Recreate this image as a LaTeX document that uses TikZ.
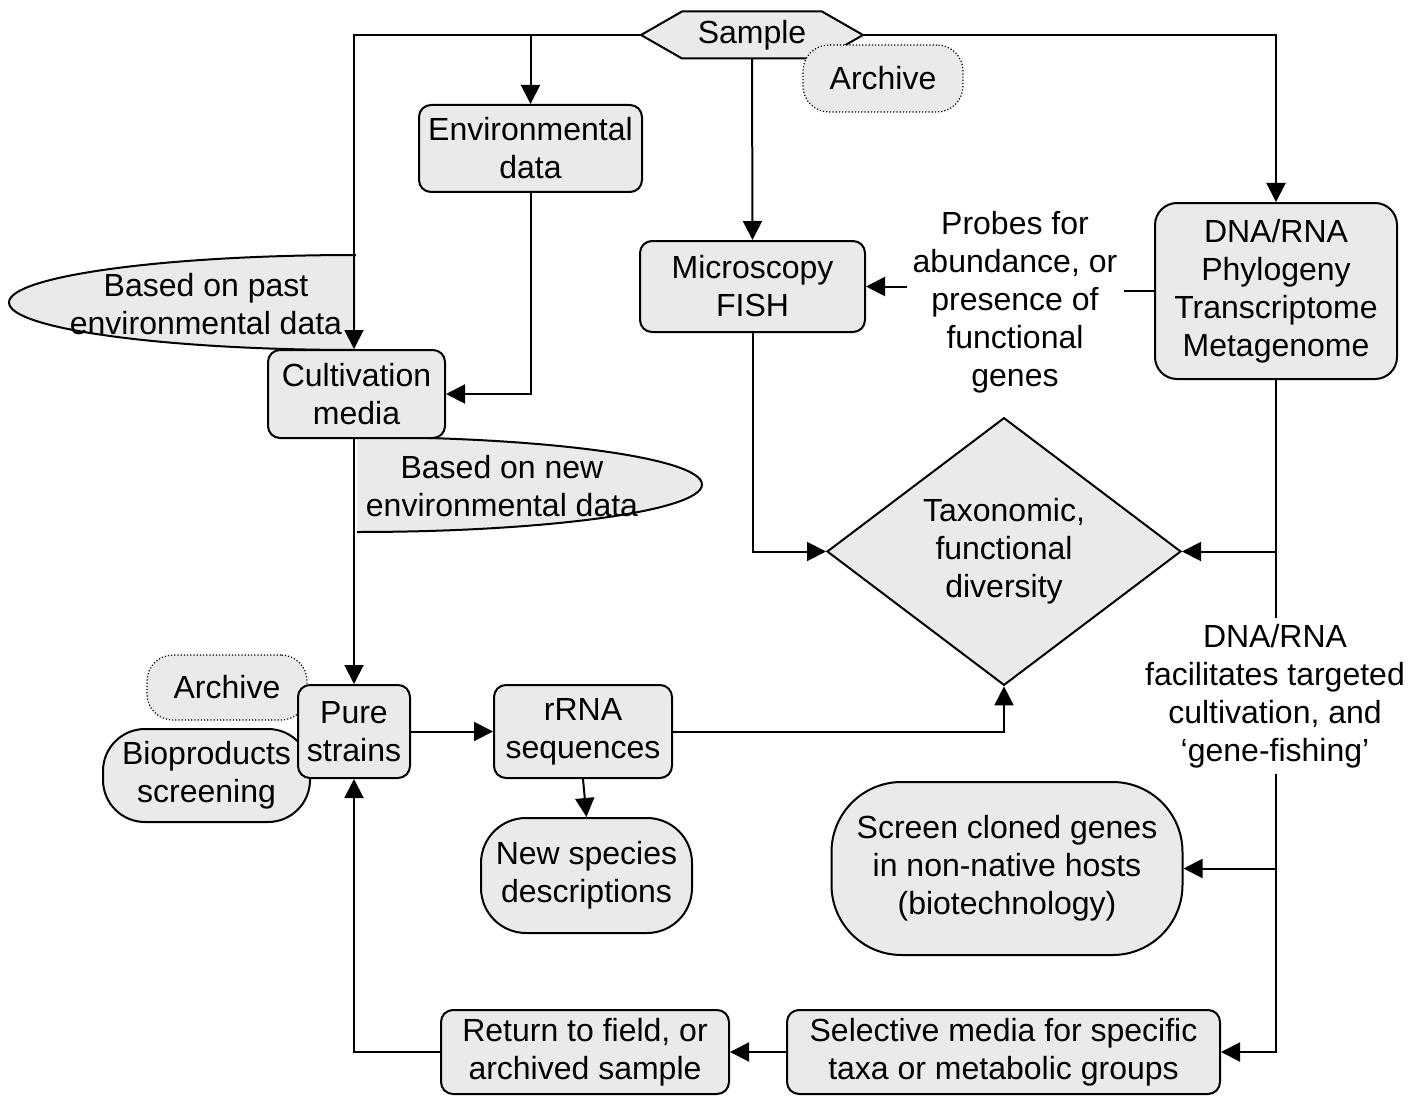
\documentclass[tikz,border=0pt]{standalone}
\usepackage{fontspec}
\setmainfont{Liberation Sans}
\usetikzlibrary{arrows.meta,shapes.geometric}
\definecolor{boxgray}{RGB}{234,234,234}

\begin{document}
\begin{tikzpicture}[x=1pt,y=-1pt,
  font=\fontsize{32}{38}\selectfont,
  box/.style={draw, line width=2pt, fill=boxgray, rounded corners=12pt, align=center, inner sep=0pt},
  archbox/.style={box, line width=1.2pt, dotted, rounded corners=26pt, minimum width=160pt},
  note/.style={align=center, inner sep=6pt, fill=white},
  line/.style={line width=2pt},
  arr/.style={line width=2pt, -{Triangle[length=19pt,width=19pt]}}]
  \useasboundingbox (0,0) rectangle (1425,1097);

  % half ellipses on the left branch
  \begin{scope}
    \clip (0,240) rectangle (356,365);
    \draw[line, fill=boxgray] (356,302.5) ellipse [x radius=347, y radius=47.5];
  \end{scope}
  \begin{scope}
    \clip (357,425) rectangle (720,545);
    \draw[line, fill=boxgray] (357,484.5) ellipse [x radius=345, y radius=47.5];
  \end{scope}
  \node[align=center, inner sep=0pt] (pastdata) at (206,304) {Based on past\\environmental data};
  \node[align=center, inner sep=0pt] (newdata) at (502,486) {Based on new\\environmental data};

  % sample hexagon
  \draw[line, fill=boxgray] (641,35) -- (682,11.5) -- (822,11.5) -- (863,35) -- (822,58.5) -- (682,58.5) -- cycle;
  \node[minimum width=222pt, minimum height=47pt, inner sep=0pt] (sample) at (752,35) {Sample};

  \node[archbox, minimum height=67pt] (archtop) at (883,78.5) {Archive};
  \node[box, minimum width=223pt, minimum height=87pt] (envdata) at (530.5,148.5) {Environmental\\data};
  \node[box, minimum width=225pt, minimum height=91pt] (micro) at (752.5,286.5) {Microscopy\\FISH};
  \node[box, rounded corners=22pt, minimum width=242pt, minimum height=176pt] (dna) at (1276,291) {DNA/RNA\\Phylogeny\\Transcriptome\\Metagenome};
  \node[box, minimum width=177pt, minimum height=88pt] (cult) at (356.5,394) {Cultivation\\media};
  \node[box, diamond, rounded corners=0pt, minimum width=354pt, minimum height=233pt] (taxo) at (1004,551.5) {Taxonomic,\\functional\\diversity};

  \node[archbox, minimum height=65pt] (archlow) at (227,687.5) {Archive};
  \node[box, rounded corners=42pt, minimum width=207pt, minimum height=93pt] (bio) at (206.5,775.5) {Bioproducts\\screening};
  \node[box, minimum width=112pt, minimum height=93pt] (pure) at (354,731.5) {Pure\\strains};
  \node[box, minimum width=178pt, minimum height=93pt] (rrna) at (583,731.5) {rRNA\\sequences};
  \node[box, rounded corners=45pt, minimum width=211pt, minimum height=115pt] (newsp) at (586.5,875.5) {New species\\descriptions};
  \node[box, rounded corners=70pt, minimum width=351pt, minimum height=173pt] (screen) at (1007,868.5) {Screen cloned genes\\in non-native hosts\\(biotechnology)};
  \node[box, minimum width=433pt, minimum height=84pt] (selective) at (1003.5,1052) {Selective media for specific\\taxa or metabolic groups};
  \node[box, minimum width=288pt, minimum height=84pt] (return) at (585,1052) {Return to field, or\\archived sample};

  \node[note] (probes) at (1015,302) {Probes for\\abundance, or\\presence of\\functional\\genes};
  \node[note] (dnanote) at (1275,696) {DNA/RNA\\facilitates targeted\\cultivation, and\\‘gene-fishing’};

  % connectors
  \draw[arr] (sample.west) -| (pure.north |- pastdata.north) -- (cult.north -| pure.north);
  \draw[arr] (envdata.north |- sample.west) -- (envdata.north);
  \draw[arr] (sample.south) -- (micro.north);
  \draw[arr] (sample.east) -| (dna.north);
  \draw[line] (dna.west) -- (probes.east |- dna.west);
  \draw[arr] (probes.west |- micro.east) -- (micro.east);
  \draw[arr] (envdata.south) |- (cult.east);
  \draw[arr] (pure.north |- cult.south) -- (pure.north);
  \draw[arr] (pure.east) -- (rrna.west);
  \draw[arr] (rrna.east) -| (taxo.south);
  \draw[arr] (rrna.south) -- (newsp.north);
  \draw[arr] (micro.south) |- (taxo.west);
  \draw[line] (dna.south) -- (dna.south |- dnanote.north);
  \draw[arr] (taxo.east -| dna.south) -- (taxo.east);
  \draw[arr] (dna.south |- dnanote.south) |- (selective.east);
  \draw[arr] (screen.east -| dna.south) -- (screen.east);
  \draw[arr] (selective.west) -- (return.east);
  \draw[arr] (return.west) -| (pure.south);
\end{tikzpicture}
\end{document}
